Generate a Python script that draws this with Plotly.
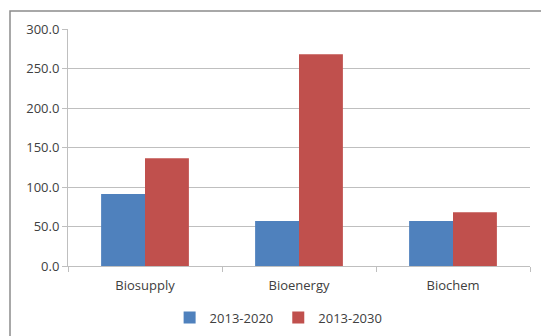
import plotly.graph_objects as go

categories = ["Biosupply", "Bioenergy", "Biochem"]
series_names = ["2013-2020", "2013-2030"]
values_2020 = [91.0, 57.0, 57.0]
values_2030 = [136.5, 268.0, 68.0]
y_ticks = [0, 50, 100, 150, 200, 250, 300]

colors = ["#4F81BD", "#C0504D"]
font_family = "Open Sans, Noto Sans, sans-serif"
text_color = "#404040"

fig = go.Figure()
for name, vals, col in zip(series_names, [values_2020, values_2030], colors):
    fig.add_trace(go.Bar(
        x=categories, y=vals, name=name,
        marker=dict(color=col, line=dict(width=0)),
    ))

fig.update_layout(
    width=541, height=336,
    margin=dict(l=68, r=11, t=29, b=70, autoexpand=False),
    paper_bgcolor="white", plot_bgcolor="white",
    barmode="group", bargap=0.43, bargroupgap=0,
    font=dict(family=font_family, size=13, color=text_color),
    showlegend=True,
    legend=dict(orientation="h", xref="container", x=0.515, xanchor="center",
                yref="container", y=0.055, yanchor="middle",
                font=dict(size=13, color=text_color),
                traceorder="normal"),
    xaxis=dict(
        showgrid=False, showline=True, linecolor="#BFBFBF", linewidth=1,
        ticks="outside", tickson="boundaries", ticklen=5, tickcolor="#BFBFBF",
        tickfont=dict(size=13, color=text_color), ticklabelstandoff=7,
    ),
    yaxis=dict(
        range=[0, 300], tickvals=y_ticks, tickformat=".1f",
        showgrid=True, gridcolor="#BFBFBF", gridwidth=1,
        showline=True, linecolor="#BFBFBF", linewidth=1,
        ticks="outside", ticklen=5, tickcolor="#BFBFBF",
        tickfont=dict(size=13, color=text_color), zeroline=False,
    ),
)

# Outer chart frame
fig.add_shape(type="rect", xref="paper", yref="paper",
              x0=-58 / 462, x1=1.1, y0=-0.5, y1=1 + 18 / 237,
              line=dict(color="#8C8C8C", width=1.5), layer="above")

fig.write_html("out.html")
